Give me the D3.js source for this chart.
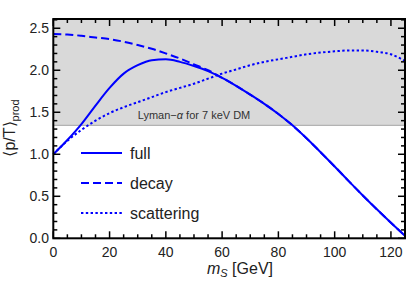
<!DOCTYPE html>
<html><head><meta charset="utf-8">
<script src="https://cdn.jsdelivr.net/npm/d3@7"></script>
<style>body{margin:0;background:#fff}svg{display:block}</style>
</head><body>
<svg id="c" width="410" height="284"></svg>
<script>
const masses = [0,5,10,15,20,25,30,35,40,45,50,55,60,65,70,75,80,85,90,95,100,105,110,115,120,125];
const fullVals = [1.0,1.17,1.36,1.58,1.79,1.96,2.06,2.12,2.13,2.10,2.05,1.99,1.91,1.815,1.71,1.60,1.48,1.345,1.19,1.025,0.855,0.68,0.51,0.345,0.185,0.03];
const decayVals = [2.43,2.425,2.41,2.39,2.37,2.34,2.30,2.255,2.20,2.14,2.07,2.00,1.91,1.815,1.71,1.60,1.48,1.345,1.19,1.025,0.855,0.68,0.51,0.345,0.185,0.03];
const scatVals = [1.0,1.16,1.29,1.40,1.49,1.56,1.62,1.68,1.74,1.79,1.84,1.90,1.96,2.01,2.06,2.10,2.13,2.16,2.19,2.21,2.225,2.235,2.235,2.22,2.19,2.11];
const xTicks = [0,20,40,60,80,100,120];
const yTicks = [0.0,0.5,1.0,1.5,2.0,2.5];
const lymanLimit = 1.345;
const seriesNames = ["full","decay","scattering"];

const svg = d3.select("#c");
const font = "'Liberation Sans', Arial, sans-serif";
const x = d3.scaleLinear().domain([0,125]).range([53.3,405]);
const y = d3.scaleLinear().domain([0,2.61]).range([238.3,19]);
const blue = "#0000ff";

// shaded Lyman-alpha region
svg.append("rect").attr("x",x(0)).attr("y",y(2.61)).attr("width",x(125)-x(0)).attr("height",y(lymanLimit)-y(2.61)).attr("fill","#d9d9d9");
svg.append("line").attr("x1",x(0)).attr("x2",x(125)).attr("y1",y(lymanLimit)).attr("y2",y(lymanLimit)).attr("stroke","#b3b3b3").attr("stroke-width",1.2);
const ly = svg.append("text").attr("x",194).attr("y",y(lymanLimit)-6).attr("text-anchor","middle").attr("font-family",font).attr("font-size",11).attr("fill","#333");
ly.append("tspan").text("Lyman\u2212");
ly.append("tspan").attr("font-style","italic").text("\u03b1");
ly.append("tspan").text(" for 7 keV DM");

const line = d3.line().x(d=>x(d[0])).y(d=>y(d[1])).curve(d3.curveMonotoneX);
const styles = [{v:fullVals,dash:null},{v:decayVals,dash:"8,4"},{v:scatVals,dash:"2.4,2.4"}];
const drawOrder = [2,1,0];
drawOrder.forEach(i=>{
  const s = styles[i];
  const p = svg.append("path").datum(masses.map((m,j)=>[m,s.v[j]])).attr("d",line)
    .attr("fill","none").attr("stroke",blue).attr("stroke-width",2);
  if(s.dash) p.attr("stroke-dasharray",s.dash);
});

// frame with ticks on all sides
const g = svg.append("g").attr("stroke","#000");
const xMinor = d3.range(0,126,5), yMinor = d3.range(0,2.61,0.1);
xMinor.forEach(v=>{
  const major = v%20===0; const L = major?7:4;
  g.append("line").attr("x1",x(v)).attr("x2",x(v)).attr("y1",y(0)).attr("y2",y(0)-L).attr("stroke-width",1.5);
  g.append("line").attr("x1",x(v)).attr("x2",x(v)).attr("y1",y(2.61)).attr("y2",y(2.61)+L).attr("stroke-width",1.5);
});
yMinor.forEach(v=>{
  const major = Math.abs(v*2-Math.round(v*2))<1e-6; const L = major?7:4;
  g.append("line").attr("x1",x(0)).attr("x2",x(0)+L).attr("y1",y(v)).attr("y2",y(v)).attr("stroke-width",1.5);
  g.append("line").attr("x1",x(125)).attr("x2",x(125)-L).attr("y1",y(v)).attr("y2",y(v)).attr("stroke-width",1.5);
});
svg.append("rect").attr("x",x(0)).attr("y",y(2.61)).attr("width",x(125)-x(0)).attr("height",y(0)-y(2.61))
  .attr("fill","none").attr("stroke","#000").attr("stroke-width",2);

// tick labels
svg.selectAll("text.xt").data(xTicks).enter().append("text").attr("class","xt")
  .attr("x",d=>x(d)).attr("y",257).attr("text-anchor","middle").attr("font-family",font).attr("font-size",14).attr("fill","#222").text(d=>d);
svg.selectAll("text.yt").data(yTicks).enter().append("text").attr("class","yt")
  .attr("x",49).attr("y",d=>y(d)+5).attr("text-anchor","end").attr("font-family",font).attr("font-size",14).attr("fill","#222").text(d=>d.toFixed(1));

// axis labels
const xl = svg.append("text").attr("x",240).attr("y",274).attr("text-anchor","middle").attr("font-family",font).attr("font-size",16).attr("fill","#222");
xl.append("tspan").attr("font-style","italic").text("m");
xl.append("tspan").attr("font-style","italic").attr("font-size",11).attr("dy",3).text("S");
xl.append("tspan").attr("dy",-3).text(" [GeV]");
const yl = svg.append("text").attr("transform","translate(15,128) rotate(-90)").attr("text-anchor","middle").attr("font-family",font).attr("font-size",16).attr("fill","#222");
yl.append("tspan").text("\u27e8p/T\u27e9");
yl.append("tspan").attr("font-size",11).attr("dy",4).text("prod");

// legend
const legY = [153,183,213];
seriesNames.forEach((n,i)=>{
  const l = svg.append("line").attr("x1",81).attr("x2",122).attr("y1",legY[i]).attr("y2",legY[i]).attr("stroke",blue).attr("stroke-width",2);
  if(styles[i].dash) l.attr("stroke-dasharray",styles[i].dash);
  svg.append("text").attr("x",130).attr("y",legY[i]+5.5).attr("font-family",font).attr("font-size",16).attr("fill","#222").text(n);
});
</script>
</body></html>
